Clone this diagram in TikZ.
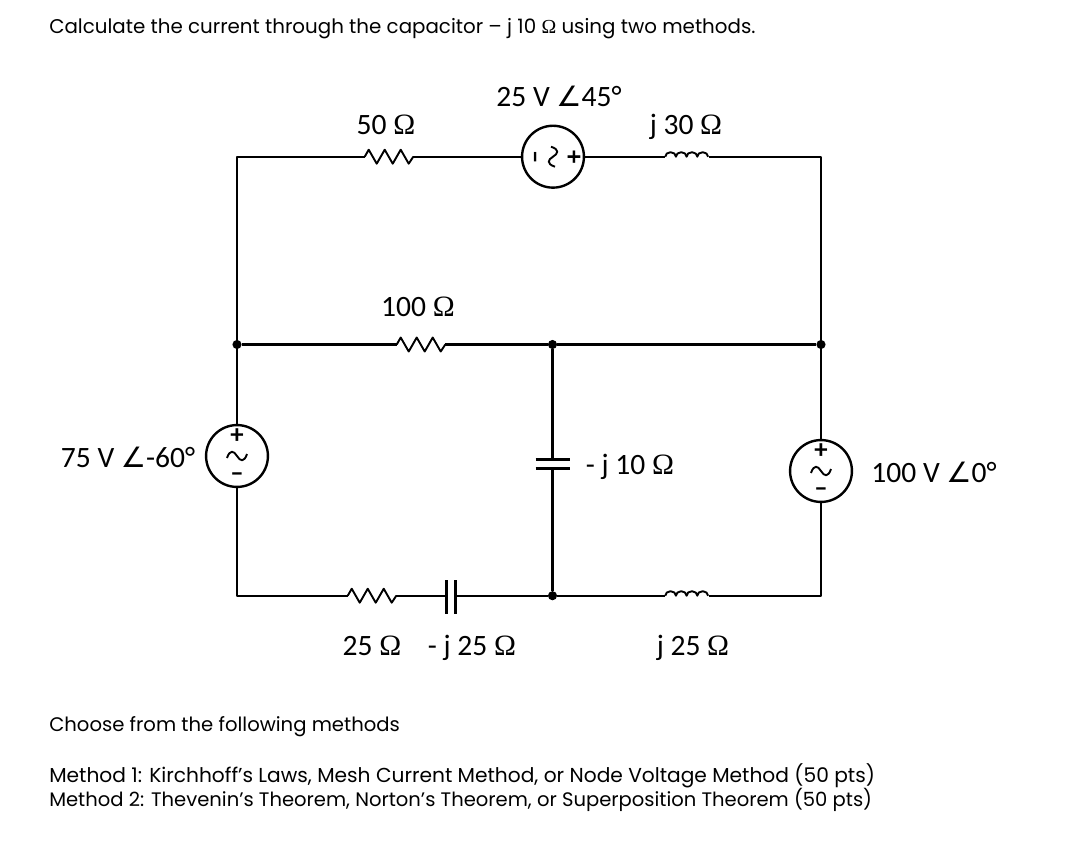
\documentclass[tikz,border=0pt]{standalone}
\usepackage{fontspec}
\setmainfont{Poppins}
\newfontfamily\labelfont{Carlito}
\newfontfamily\symfont{DejaVu Sans}
\newfontfamily\omegafont{Liberation Serif}
\newcommand{\ohm}{{\omegafont Ω}}
\newcommand{\ang}{{\symfont\scalebox{0.95}{∠}}}
\tikzset{
  wire/.style={line width=1.7pt, line join=round},
  part/.style={line width=1.35pt, line join=round},
  lbl/.style={font=\labelfont\fontsize{21}{24}\selectfont, inner sep=0pt},
  para/.style={font=\fontsize{#1}{18}\selectfont, anchor=base west, inner sep=0pt},
  box/.style={inner sep=0pt, minimum width=48*0.711pt, minimum height=10pt},
  coil/.style={inner sep=0pt, minimum width=43*0.711pt, minimum height=10pt},
  source/.style={circle, draw, wire, inner sep=0pt, minimum size=44pt},
  dot/.style={circle, fill, inner sep=0pt, minimum size=6.5pt},
  sign/.style={font=\labelfont\bfseries\fontsize{19}{19}\selectfont, inner sep=0pt}
}
% zigzag of a resistor, humps of an inductor, inside of a source
\newcommand{\zigzag}[1]{
  \draw[part] (#1.west) -- ++(4,-7) -- ++(8,14) -- ++(8,-14) -- ++(8,14) -- ++(8,-14) -- ++(8,14) -- (#1.east);
}
\newcommand{\humps}[1]{
  \draw[part] (#1.west) arc[start angle=180, end angle=0, x radius=3.8pt, y radius=3.2pt]
    arc[start angle=180, end angle=0, x radius=3.8pt, y radius=3.2pt]
    arc[start angle=180, end angle=0, x radius=3.8pt, y radius=3.2pt]
    arc[start angle=180, end angle=0, x radius=3.85pt, y radius=3.2pt];
}
\newcommand{\acmarks}[2]{
  \begin{scope}[shift={(#1.center)}, rotate=#2]
    \draw[part] (-10,2) .. controls (-7,-7) and (-3,-5) .. (0,0) .. controls (3,5) and (7,7) .. (10,-2);
    \node[sign, rotate=#2] at (0,-20) {+};
    \node[sign, rotate=#2] at (0,21) {–};
  \end{scope}
}
\begin{document}
\begin{tikzpicture}[x=0.025cm, y=-0.025cm]
  \useasboundingbox (0,0) rectangle (1080,848);

  % corners
  \coordinate (TL) at (237,156.7);
  \coordinate (TR) at (821,156.7);
  \coordinate (BL) at (237,595.7);
  \coordinate (BR) at (821,595.7);

  % junctions
  \node[dot] (A) at (237,344.5) {};
  \node[dot] (B) at (552.5,344.5) {};
  \node[dot] (C) at (821,344.5) {};
  \node[dot] (D) at (552.5,595.7) {};

  % parts
  \node[box] (R50) at (389,156.7) {};
  \node[box] (R100) at (421,344.5) {};
  \node[box] (R25) at (372,595.7) {};
  \node[coil] (L30) at (687,156.7) {};
  \node[coil] (L25) at (687,595.7) {};
  \node[source] (V25) at (553,156.7) {};
  \node[source] (V75) at (237,456) {};
  \node[source] (V100) at (821,471) {};
  \node[inner sep=0pt, minimum width=6pt, minimum height=33*0.711pt] (C25) at (451,597) {};
  \node[inner sep=0pt, minimum width=34*0.711pt, minimum height=6pt] (C10) at (553,464) {};

  \zigzag{R50}
  \zigzag{R100}
  \zigzag{R25}
  \humps{L30}
  \humps{L25}
  \acmarks{V25}{-90}
  \acmarks{V75}{0}
  \acmarks{V100}{0}

  % capacitor plates
  \draw[wire] (C25.north west) -- (C25.south west);
  \draw[wire] (C25.north east) -- (C25.south east);
  \draw[wire] (C10.north west) -- (C10.north east);
  \draw[wire] (C10.south west) -- (C10.south east);

  % wires
  \draw[wire] (V75.north) -- (A) -- (TL) -- (R50.west);
  \draw[wire] (R50.east) -- (V25.west);
  \draw[wire] (V25.east) -- (L30.west);
  \draw[wire] (L30.east) -- (TR) -- (C);
  \draw[wire] (A) -- (R100.west);
  \draw[wire] (R100.east) -- (B);
  \draw[wire] (B) -- (C);
  \draw[wire] (C) -- (V100.north);
  \draw[wire] (V100.south) -- (BR) -- (L25.east);
  \draw[wire] (L25.west) -- (D);
  \draw[wire] (B) -- (C10.north -| B);
  \draw[wire] (C10.south -| B) -- (D);
  \draw[wire] (D) -- (C25.east |- D);
  \draw[wire] (C25.west |- D) -- (R25.east);
  \draw[wire] (R25.west) -- (BL) -- (V75.south);

  % values
  \node[lbl] (tR50) at (386,125) {50 \ohm};
  \node[lbl] (tV25) at (559,96) {25 V \ang45°};
  \node[lbl] (tL30) at (686,127) {j 30 \ohm};
  \node[lbl] (tR100) at (418,307) {100 \ohm};
  \node[lbl] (tV75) at (128,457) {75 V \ang-60°};
  \node[lbl] (tC10) at (630,466.5) {- j 10 \ohm};
  \node[lbl] (tV100) at (934,472) {100 V \ang0°};
  \node[lbl] (tR25) at (372,646) {25 \ohm};
  \node[lbl] (tC25) at (472,648) {- j 25 \ohm};
  \node[lbl] (tL25) at (693,648) {j 25 \ohm};

  % text around the circuit
  \node[para=14.1] (title) at (49,33) {Calculate the current through the capacitor – j 10 \ohm{} using two methods.};
  \node[para=13.95] (choose) at (49,731) {Choose from the following methods};
  \node[para=14.35] (meth1) at (49,782) {Method 1: Kirchhoff's Laws, Mesh Current Method, or Node Voltage Method (50 pts)};
  \node[para=13.9] (meth2) at (49,806) {Method 2: Thevenin's Theorem, Norton's Theorem, or Superposition Theorem (50 pts)};
\end{tikzpicture}
\end{document}
